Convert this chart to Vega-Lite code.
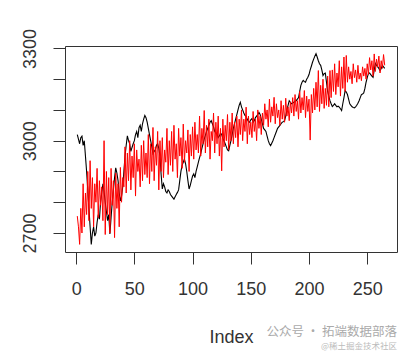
{
  "$schema": "https://vega.github.io/schema/vega-lite/v6.json",
  "width": 332,
  "height": 206,
  "autosize": {"type": "none"},
  "padding": {"left": 65, "top": 46, "right": 19, "bottom": 101},
  "background": "white",
  "config": {
    "view": {"stroke": "#333", "strokeWidth": 1},
    "font": "Liberation Sans"
  },
  "title": {
    "text": "公众号 · 拓端数据部落",
    "subtitle": "@稀土掘金技术社区",
    "orient": "bottom",
    "anchor": "end",
    "font": "Noto Sans CJK SC",
    "fontSize": 12.5,
    "fontWeight": "normal",
    "color": "#aaaaaa",
    "subtitleFont": "Noto Sans CJK SC",
    "subtitleFontSize": 8.5,
    "subtitleColor": "#bbbbbb",
    "subtitlePadding": 3,
    "offset": -20,
    "dx": 0
  },
  "data": {
    "values": [
      {"i":1,"actual":3020,"fitted":2755},{"i":2,"actual":3005,"fitted":2720},{"i":3,"actual":2990,"fitted":2663},{"i":4,"actual":3010,"fitted":2780},{"i":5,"actual":3015,"fitted":2700},
      {"i":6,"actual":2985,"fitted":2860},{"i":7,"actual":3000,"fitted":2720},{"i":8,"actual":2950,"fitted":2830},{"i":9,"actual":2900,"fitted":2760},{"i":10,"actual":2840,"fitted":2900},
      {"i":11,"actual":2780,"fitted":2740},{"i":12,"actual":2720,"fitted":2935},{"i":13,"actual":2663,"fitted":2780},{"i":14,"actual":2700,"fitted":2880},{"i":15,"actual":2720,"fitted":2720},
      {"i":16,"actual":2690,"fitted":2860},{"i":17,"actual":2700,"fitted":2800},{"i":18,"actual":2735,"fitted":2910},{"i":19,"actual":2760,"fitted":2750},{"i":20,"actual":2745,"fitted":2870},
      {"i":21,"actual":2800,"fitted":2790},{"i":22,"actual":2830,"fitted":2850},{"i":23,"actual":2860,"fitted":2740},{"i":24,"actual":2835,"fitted":3000},{"i":25,"actual":2800,"fitted":2695},
      {"i":26,"actual":2770,"fitted":2900},{"i":27,"actual":2740,"fitted":2760},{"i":28,"actual":2760,"fitted":2880},{"i":29,"actual":2697,"fitted":2700},{"i":30,"actual":2750,"fitted":2910},
      {"i":31,"actual":2800,"fitted":2790},{"i":32,"actual":2840,"fitted":2870},{"i":33,"actual":2880,"fitted":2685},{"i":34,"actual":2912,"fitted":2895},{"i":35,"actual":2895,"fitted":2780},
      {"i":36,"actual":2870,"fitted":2860},{"i":37,"actual":2830,"fitted":2720},{"i":38,"actual":2804,"fitted":2913},{"i":39,"actual":2820,"fitted":2800},{"i":40,"actual":2850,"fitted":2880},
      {"i":41,"actual":2900,"fitted":2850},{"i":42,"actual":2950,"fitted":2980},{"i":43,"actual":2985,"fitted":2830},{"i":44,"actual":3016,"fitted":2960},{"i":45,"actual":3000,"fitted":2870},
      {"i":46,"actual":2990,"fitted":3000},{"i":47,"actual":2965,"fitted":2840},{"i":48,"actual":2978,"fitted":2950},{"i":49,"actual":2990,"fitted":2880},{"i":50,"actual":3000,"fitted":2990},
      {"i":51,"actual":3020,"fitted":2820},{"i":52,"actual":3030,"fitted":2970},{"i":53,"actual":3010,"fitted":2900},{"i":54,"actual":3042,"fitted":2940},{"i":55,"actual":3050,"fitted":2850},
      {"i":56,"actual":3030,"fitted":2985},{"i":57,"actual":3055,"fitted":2870},{"i":58,"actual":3070,"fitted":3000},{"i":59,"actual":3082,"fitted":2890},{"i":60,"actual":3075,"fitted":2960},
      {"i":61,"actual":3060,"fitted":2880},{"i":62,"actual":3040,"fitted":3020},{"i":63,"actual":3020,"fitted":2860},{"i":64,"actual":3000,"fitted":2990},{"i":65,"actual":2980,"fitted":2900},
      {"i":66,"actual":2958,"fitted":3043},{"i":67,"actual":2965,"fitted":2870},{"i":68,"actual":2970,"fitted":2980},{"i":69,"actual":2985,"fitted":2920},{"i":70,"actual":2990,"fitted":3030},
      {"i":71,"actual":2975,"fitted":2840},{"i":72,"actual":2950,"fitted":3000},{"i":73,"actual":2890,"fitted":2900},{"i":74,"actual":2843,"fitted":3010},{"i":75,"actual":2860,"fitted":2880},
      {"i":76,"actual":2850,"fitted":2970},{"i":77,"actual":2835,"fitted":2930},{"i":78,"actual":2830,"fitted":3040},{"i":79,"actual":2840,"fitted":2890},{"i":80,"actual":2835,"fitted":3000},
      {"i":81,"actual":2825,"fitted":2920},{"i":82,"actual":2820,"fitted":3030},{"i":83,"actual":2815,"fitted":2900},{"i":84,"actual":2810,"fitted":3050},{"i":85,"actual":2818,"fitted":2940},
      {"i":86,"actual":2825,"fitted":2990},{"i":87,"actual":2832,"fitted":2880},{"i":88,"actual":2840,"fitted":3040},{"i":89,"actual":2870,"fitted":2950},{"i":90,"actual":2900,"fitted":3010},
      {"i":91,"actual":2920,"fitted":2910},{"i":92,"actual":2930,"fitted":3054},{"i":93,"actual":2940,"fitted":2930},{"i":94,"actual":2925,"fitted":3000},{"i":95,"actual":2900,"fitted":2960},
      {"i":96,"actual":2870,"fitted":3035},{"i":97,"actual":2843,"fitted":2900},{"i":98,"actual":2855,"fitted":3020},{"i":99,"actual":2870,"fitted":2950},{"i":100,"actual":2885,"fitted":3045},
      {"i":101,"actual":2892,"fitted":2940},{"i":102,"actual":2880,"fitted":3060},{"i":103,"actual":2900,"fitted":2970},{"i":104,"actual":2915,"fitted":3020},{"i":105,"actual":2930,"fitted":2960},
      {"i":106,"actual":2945,"fitted":3080},{"i":107,"actual":2958,"fitted":2950},{"i":108,"actual":2975,"fitted":3040},{"i":109,"actual":2990,"fitted":2990},{"i":110,"actual":3005,"fitted":3098},
      {"i":111,"actual":3017,"fitted":2960},{"i":112,"actual":3030,"fitted":3050},{"i":113,"actual":3040,"fitted":2980},{"i":114,"actual":3050,"fitted":3070},{"i":115,"actual":3060,"fitted":2940},
      {"i":116,"actual":3065,"fitted":3030},{"i":117,"actual":3055,"fitted":3000},{"i":118,"actual":3045,"fitted":3090},{"i":119,"actual":3030,"fitted":2960},{"i":120,"actual":3025,"fitted":3060},
      {"i":121,"actual":3022,"fitted":2990},{"i":122,"actual":3010,"fitted":3080},{"i":123,"actual":3015,"fitted":2950},{"i":124,"actual":3025,"fitted":3040},{"i":125,"actual":3020,"fitted":2902},
      {"i":126,"actual":3008,"fitted":3070},{"i":127,"actual":3000,"fitted":2980},{"i":128,"actual":2990,"fitted":3050},{"i":129,"actual":2980,"fitted":3000},{"i":130,"actual":2970,"fitted":3085},
      {"i":131,"actual":2967,"fitted":2970},{"i":132,"actual":2985,"fitted":3060},{"i":133,"actual":3000,"fitted":3000},{"i":134,"actual":3020,"fitted":3090},{"i":135,"actual":3040,"fitted":2990},
      {"i":136,"actual":3055,"fitted":3060},{"i":137,"actual":3070,"fitted":3010},{"i":138,"actual":3085,"fitted":3080},{"i":139,"actual":3100,"fitted":2980},{"i":140,"actual":3115,"fitted":3070},
      {"i":141,"actual":3125,"fitted":3020},{"i":142,"actual":3110,"fitted":3100},{"i":143,"actual":3100,"fitted":3000},{"i":144,"actual":3090,"fitted":3070},{"i":145,"actual":3082,"fitted":3030},
      {"i":146,"actual":3078,"fitted":3109},{"i":147,"actual":3070,"fitted":2990},{"i":148,"actual":3062,"fitted":3080},{"i":149,"actual":3060,"fitted":3020},{"i":150,"actual":3068,"fitted":3060},
      {"i":151,"actual":3072,"fitted":3010},{"i":152,"actual":3060,"fitted":3095},{"i":153,"actual":3065,"fitted":3030},{"i":154,"actual":3075,"fitted":3070},{"i":155,"actual":3080,"fitted":3000},
      {"i":156,"actual":3085,"fitted":3100},{"i":157,"actual":3092,"fitted":3040},{"i":158,"actual":3085,"fitted":3080},{"i":159,"actual":3070,"fitted":3020},{"i":160,"actual":3055,"fitted":3090},
      {"i":161,"actual":3040,"fitted":3050},{"i":162,"actual":3035,"fitted":3120},{"i":163,"actual":3030,"fitted":3070},{"i":164,"actual":3015,"fitted":3100},{"i":165,"actual":3000,"fitted":3045},
      {"i":166,"actual":2990,"fitted":3135},{"i":167,"actual":2984,"fitted":3060},{"i":168,"actual":2992,"fitted":3110},{"i":169,"actual":3000,"fitted":3080},{"i":170,"actual":3010,"fitted":3141},
      {"i":171,"actual":3020,"fitted":3055},{"i":172,"actual":3030,"fitted":3120},{"i":173,"actual":3040,"fitted":3075},{"i":174,"actual":3045,"fitted":3100},{"i":175,"actual":3050,"fitted":3050},
      {"i":176,"actual":3055,"fitted":3130},{"i":177,"actual":3060,"fitted":3070},{"i":178,"actual":3062,"fitted":3115},{"i":179,"actual":3065,"fitted":3060},{"i":180,"actual":3080,"fitted":3138},
      {"i":181,"actual":3100,"fitted":3080},{"i":182,"actual":3115,"fitted":3110},{"i":183,"actual":3130,"fitted":3065},{"i":184,"actual":3125,"fitted":3125},{"i":185,"actual":3120,"fitted":3090},
      {"i":186,"actual":3122,"fitted":3140},{"i":187,"actual":3125,"fitted":3080},{"i":188,"actual":3128,"fitted":3150},{"i":189,"actual":3130,"fitted":3095},{"i":190,"actual":3135,"fitted":3130},
      {"i":191,"actual":3140,"fitted":3070},{"i":192,"actual":3160,"fitted":3160},{"i":193,"actual":3180,"fitted":3090},{"i":194,"actual":3190,"fitted":3140},{"i":195,"actual":3196,"fitted":3100},
      {"i":196,"actual":3192,"fitted":3163},{"i":197,"actual":3190,"fitted":3075},{"i":198,"actual":3200,"fitted":3145},{"i":199,"actual":3206,"fitted":3095},{"i":200,"actual":3215,"fitted":3135},
      {"i":201,"actual":3230,"fitted":3002},{"i":202,"actual":3242,"fitted":3150},{"i":203,"actual":3255,"fitted":3090},{"i":204,"actual":3265,"fitted":3170},{"i":205,"actual":3275,"fitted":3100},
      {"i":206,"actual":3283,"fitted":3190},{"i":207,"actual":3272,"fitted":3110},{"i":208,"actual":3260,"fitted":3228},{"i":209,"actual":3250,"fitted":3095},{"i":210,"actual":3245,"fitted":3180},
      {"i":211,"actual":3230,"fitted":3120},{"i":212,"actual":3212,"fitted":3200},{"i":213,"actual":3218,"fitted":3105},{"i":214,"actual":3220,"fitted":3170},{"i":215,"actual":3190,"fitted":3115},
      {"i":216,"actual":3160,"fitted":3210},{"i":217,"actual":3145,"fitted":3110},{"i":218,"actual":3130,"fitted":3228},{"i":219,"actual":3120,"fitted":3140},{"i":220,"actual":3111,"fitted":3230},
      {"i":221,"actual":3115,"fitted":3160},{"i":222,"actual":3120,"fitted":3250},{"i":223,"actual":3115,"fitted":3150},{"i":224,"actual":3110,"fitted":3220},{"i":225,"actual":3112,"fitted":3175},
      {"i":226,"actual":3109,"fitted":3260},{"i":227,"actual":3104,"fitted":3145},{"i":228,"actual":3098,"fitted":3240},{"i":229,"actual":3120,"fitted":3170},{"i":230,"actual":3140,"fitted":3272},
      {"i":231,"actual":3163,"fitted":3160},{"i":232,"actual":3158,"fitted":3277},{"i":233,"actual":3150,"fitted":3190},{"i":234,"actual":3135,"fitted":3240},{"i":235,"actual":3120,"fitted":3200},
      {"i":236,"actual":3115,"fitted":3225},{"i":237,"actual":3110,"fitted":3185},{"i":238,"actual":3108,"fitted":3250},{"i":239,"actual":3107,"fitted":3205},{"i":240,"actual":3110,"fitted":3230},
      {"i":241,"actual":3115,"fitted":3190},{"i":242,"actual":3122,"fitted":3245},{"i":243,"actual":3130,"fitted":3200},{"i":244,"actual":3140,"fitted":3220},{"i":245,"actual":3150,"fitted":3195},
      {"i":246,"actual":3152,"fitted":3240},{"i":247,"actual":3155,"fitted":3210},{"i":248,"actual":3170,"fitted":3235},{"i":249,"actual":3190,"fitted":3200},{"i":250,"actual":3205,"fitted":3250},
      {"i":251,"actual":3218,"fitted":3215},{"i":252,"actual":3220,"fitted":3270},{"i":253,"actual":3215,"fitted":3230},{"i":254,"actual":3210,"fitted":3260},{"i":255,"actual":3206,"fitted":3210},
      {"i":256,"actual":3230,"fitted":3282},{"i":257,"actual":3251,"fitted":3225},{"i":258,"actual":3245,"fitted":3265},{"i":259,"actual":3240,"fitted":3240},{"i":260,"actual":3235,"fitted":3275},
      {"i":261,"actual":3228,"fitted":3220},{"i":262,"actual":3235,"fitted":3260},{"i":263,"actual":3245,"fitted":3235},{"i":264,"actual":3240,"fitted":3280},{"i":265,"actual":3235,"fitted":3245}
    ]
  },
  "layer": [
    {
      "mark": {"type": "line", "color": "black", "strokeWidth": 1.1},
      "encoding": {
        "x": {
          "field": "i", "type": "quantitative",
          "scale": {"domain": [-9.56, 275.56], "nice": false, "zero": false},
          "axis": {
            "values": [0, 50, 100, 150, 200, 250],
            "tickCount": 20,
            "domain": false, "grid": false,
            "tickSize": 12, "tickColor": "#333", "tickWidth": 1,
            "labelFontSize": 18, "labelColor": "#333", "labelPadding": 16,
            "labelFlush": false, "labelOverlap": false,
            "title": "Index", "titleFontSize": 18, "titleFontWeight": "normal",
            "titleColor": "#333", "titlePadding": 30
          }
        },
        "y": {
          "field": "actual", "type": "quantitative",
          "scale": {"domain": [2638.2, 3307.8], "nice": false, "zero": false},
          "axis": {
            "values": [2700, 2800, 2900, 3000, 3100, 3200, 3300],
            "tickCount": 20,
            "labelExpr": "(datum.value == 2700 || datum.value == 3000 || datum.value == 3300) ? format(datum.value, 'd') : ''",
            "domain": false, "grid": false,
            "tickSize": 12, "tickColor": "#333", "tickWidth": 1,
            "labelFontSize": 18, "labelColor": "#333", "labelPadding": 18,
            "labelAngle": 270, "labelAlign": "center", "labelBaseline": "alphabetic",
            "labelFlush": false, "labelOverlap": false,
            "title": null
          }
        }
      }
    },
    {
      "mark": {"type": "line", "color": "red", "strokeWidth": 1},
      "encoding": {
        "x": {"field": "i", "type": "quantitative"},
        "y": {"field": "fitted", "type": "quantitative"}
      }
    }
  ]
}
